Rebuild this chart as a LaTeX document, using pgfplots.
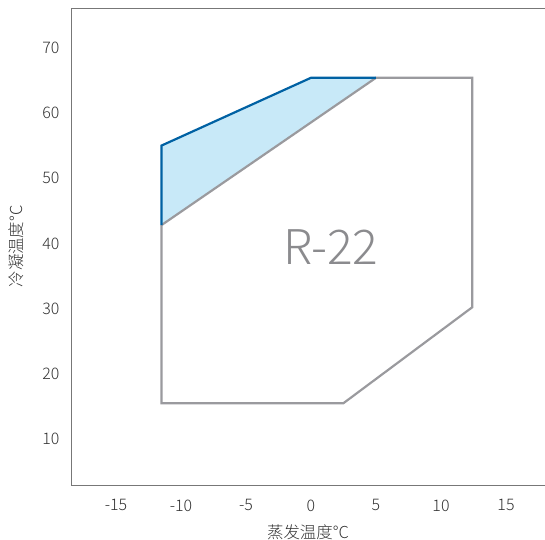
\documentclass[border=0pt]{standalone}
\usepackage{pgfplots}
\pgfplotsset{compat=1.18}
\usepackage{fontspec}
\IfFontExistsTF{Noto Sans CJK SC Light}{\setmainfont{Noto Sans CJK SC Light}}{\setmainfont{Noto Sans CJK SC}}
\definecolor{grayline}{HTML}{9A9A9E}
\definecolor{blueline}{HTML}{0061A3}
\definecolor{bluefill}{HTML}{C8E9F8}
\definecolor{axisgray}{HTML}{777777}
\definecolor{txt}{HTML}{333333}
\begin{document}
\begin{tikzpicture}
\begin{axis}[
  scale only axis,
  width=474bp, height=477bp,
  xmin=-18.46, xmax=18.0,
  ymin=2.95, ymax=76.1,
  axis x line*=box,
  axis y line*=left,
  axis line style={axisgray, line width=0.9pt},
  major tick length=0pt,
  xtick={-15,-10,-5,0,5,10,15},
  ytick={10,20,30,40,50,60,70},
  /pgf/number format/assume math mode=true,
  tick label style={font=\fontsize{16}{18}\selectfont, text=txt},
  xticklabel style={yshift=-11bp},
  yticklabel style={xshift=-8bp},
  xlabel={蒸发温度°C},
  ylabel={冷凝温度°C},
  label style={font=\fontsize{16.5}{18}\selectfont, text=txt},
  xlabel style={yshift=-7bp},
  ylabel style={yshift=12bp},
  clip=false,
]
\addplot[fill=bluefill, draw=none] coordinates {(-11.5,42.8) (-11.5,55) (0,65.4) (5,65.4)} -- cycle;
\addplot[grayline, line width=2.2pt, line join=miter] coordinates {(-11.5,42.8) (-11.5,15.5) (2.5,15.5) (12.4,30.2) (12.4,65.4) (5,65.4) (-11.5,42.8)};
\addplot[blueline, line width=2.2pt, line join=miter] coordinates {(-11.5,42.8) (-11.5,55) (0,65.4) (5,65.4)};
\node[text=grayline!90!black, font=\fontsize{48}{52}\selectfont] at (axis cs:1.55,39.4) {R-22};
\end{axis}
\pgfresetboundingbox
\path ([xshift=-71bp,yshift=-55bp]current axis.south west) rectangle ([yshift=8bp]current axis.north east);
\end{tikzpicture}
\end{document}
